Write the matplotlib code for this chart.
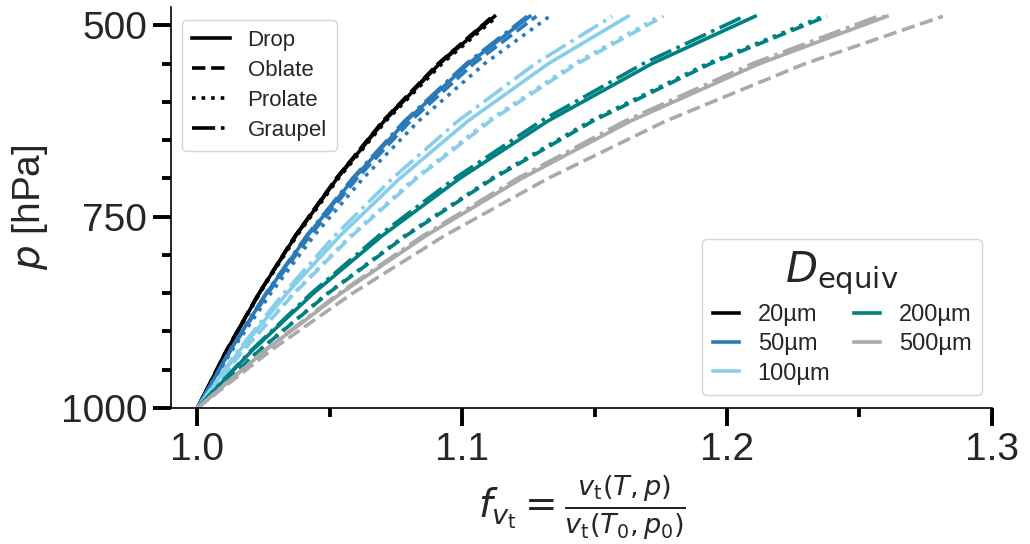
import matplotlib
matplotlib.use('Agg')
import matplotlib.pyplot as plt
from matplotlib.lines import Line2D
from matplotlib.ticker import MultipleLocator

plt.rcParams['font.family'] = ['Liberation Sans', 'DejaVu Sans']
plt.rcParams['mathtext.fontset'] = 'dejavusans'

# pressure levels [hPa] at which the curves were read
pressure = [1000, 925, 850, 775, 700, 625, 550, 488]

sizes = ['20µm', '50µm', '100µm', '200µm', '500µm']
size_colors = ['black', '#2a7ab8', '#87ceeb', '#008080', '#aaaaaa']
shapes = ['Drop', 'Oblate', 'Prolate', 'Graupel']
shape_styles = ['-', '--', ':', '-.']

# f_vt values, one list per shape, per size
f_20 = [
    [1.0, 1.0110, 1.0233, 1.0371, 1.0527, 1.0705, 1.0914, 1.1122],
    [1.0, 1.0109, 1.0232, 1.0369, 1.0524, 1.0700, 1.0909, 1.1115],
    [1.0, 1.0111, 1.0235, 1.0375, 1.0532, 1.0711, 1.0923, 1.1132],
    [1.0, 1.0110, 1.0233, 1.0370, 1.0525, 1.0702, 1.0911, 1.1118],
]
f_50 = [
    [1.0, 1.0123, 1.0261, 1.0415, 1.0590, 1.0788, 1.1023, 1.1255],
    [1.0, 1.0125, 1.0266, 1.0424, 1.0602, 1.0804, 1.1043, 1.1280],
    [1.0, 1.0130, 1.0277, 1.0440, 1.0625, 1.0835, 1.1084, 1.1330],
    [1.0, 1.0122, 1.0259, 1.0412, 1.0585, 1.0782, 1.1015, 1.1245],
]
f_100 = [
    [1.0, 1.0159, 1.0338, 1.0538, 1.0764, 1.1021, 1.1325, 1.1626],
    [1.0, 1.0172, 1.0366, 1.0583, 1.0827, 1.1105, 1.1434, 1.1760],
    [1.0, 1.0171, 1.0363, 1.0578, 1.0820, 1.1096, 1.1422, 1.1745],
    [1.0, 1.0153, 1.0326, 1.0518, 1.0736, 1.0983, 1.1276, 1.1566],
]
f_200 = [
    [1.0, 1.0206, 1.0438, 1.0697, 1.0990, 1.1323, 1.1716, 1.2106],
    [1.0, 1.0233, 1.0494, 1.0787, 1.1117, 1.1493, 1.1937, 1.2377],
    [1.0, 1.0231, 1.0491, 1.0782, 1.1110, 1.1483, 1.1925, 1.2362],
    [1.0, 1.0202, 1.0430, 1.0684, 1.0971, 1.1297, 1.1683, 1.2065],
]
f_500 = [
    [1.0, 1.0255, 1.0542, 1.0862, 1.1224, 1.1635, 1.2122, 1.2604],
    [1.0, 1.0276, 1.0586, 1.0932, 1.1323, 1.1768, 1.2294, 1.2815],
    [1.0, 1.0254, 1.0540, 1.0859, 1.1220, 1.1630, 1.2115, 1.2595],
    [1.0, 1.0252, 1.0535, 1.0851, 1.1208, 1.1614, 1.2095, 1.2570],
]
all_f = [f_20, f_50, f_100, f_200, f_500]

text_col = '#262626'
fig = plt.figure(figsize=(10.3, 5.44), dpi=100)
ax = fig.add_axes([0.166, 0.25, 0.797, 0.737])

for f_size, col in zip(all_f, size_colors):
    for f_shape, ls in zip(f_size, shape_styles):
        ax.plot(f_shape, pressure, color=col, ls=ls, lw=2.6)

ax.set_xlim(0.99, 1.3)
ax.set_ylim(1000, 476)
ax.xaxis.set_major_locator(MultipleLocator(0.1))
ax.xaxis.set_minor_locator(MultipleLocator(0.05))
ax.yaxis.set_major_locator(MultipleLocator(250))
ax.yaxis.set_minor_locator(MultipleLocator(50))
ax.xaxis.set_major_formatter(matplotlib.ticker.FormatStrFormatter('%.1f'))

for s in ['top', 'right']:
    ax.spines[s].set_visible(False)
for s in ['left', 'bottom']:
    ax.spines[s].set_linewidth(1.2)
    ax.spines[s].set_color('black')

ax.tick_params(which='major', length=13, width=2.8, labelsize=28,
               labelcolor=text_col, pad=4)
ax.tick_params(which='minor', length=6.5, width=2.8)

ax.set_ylabel('$p$ [hPa]', fontsize=28, color=text_col, labelpad=8)
ax.set_xlabel(r'$f_{v_\mathrm{t}} = \frac{v_\mathrm{t}(T,p)}{v_\mathrm{t}(T_0,p_0)}$',
              fontsize=28, color=text_col, labelpad=4)

shape_handles = [Line2D([], [], color='black', ls=ls, lw=2.6) for ls in shape_styles]
leg1 = ax.legend(shape_handles, shapes, loc='upper left',
                 bbox_to_anchor=(0.0134, 0.9676), borderaxespad=0,
                 fontsize=16, handlelength=1.7, labelcolor=text_col,
                 borderpad=0.45, labelspacing=0.4)
ax.add_artist(leg1)

size_handles = [Line2D([], [], color=c, lw=2.6) for c in size_colors]
leg2 = ax.legend(size_handles, sizes, loc='lower right', ncol=2,
                 bbox_to_anchor=(0.988, 0.032), borderaxespad=0,
                 fontsize=17, handlelength=1.1, handletextpad=0.8,
                 columnspacing=1.0,
                 title=r'$D_\mathrm{equiv}$', title_fontsize=30,
                 labelcolor=text_col, borderpad=0.45, labelspacing=0.3)
leg2.get_title().set_color(text_col)

fig.savefig('out.png', dpi=100)
